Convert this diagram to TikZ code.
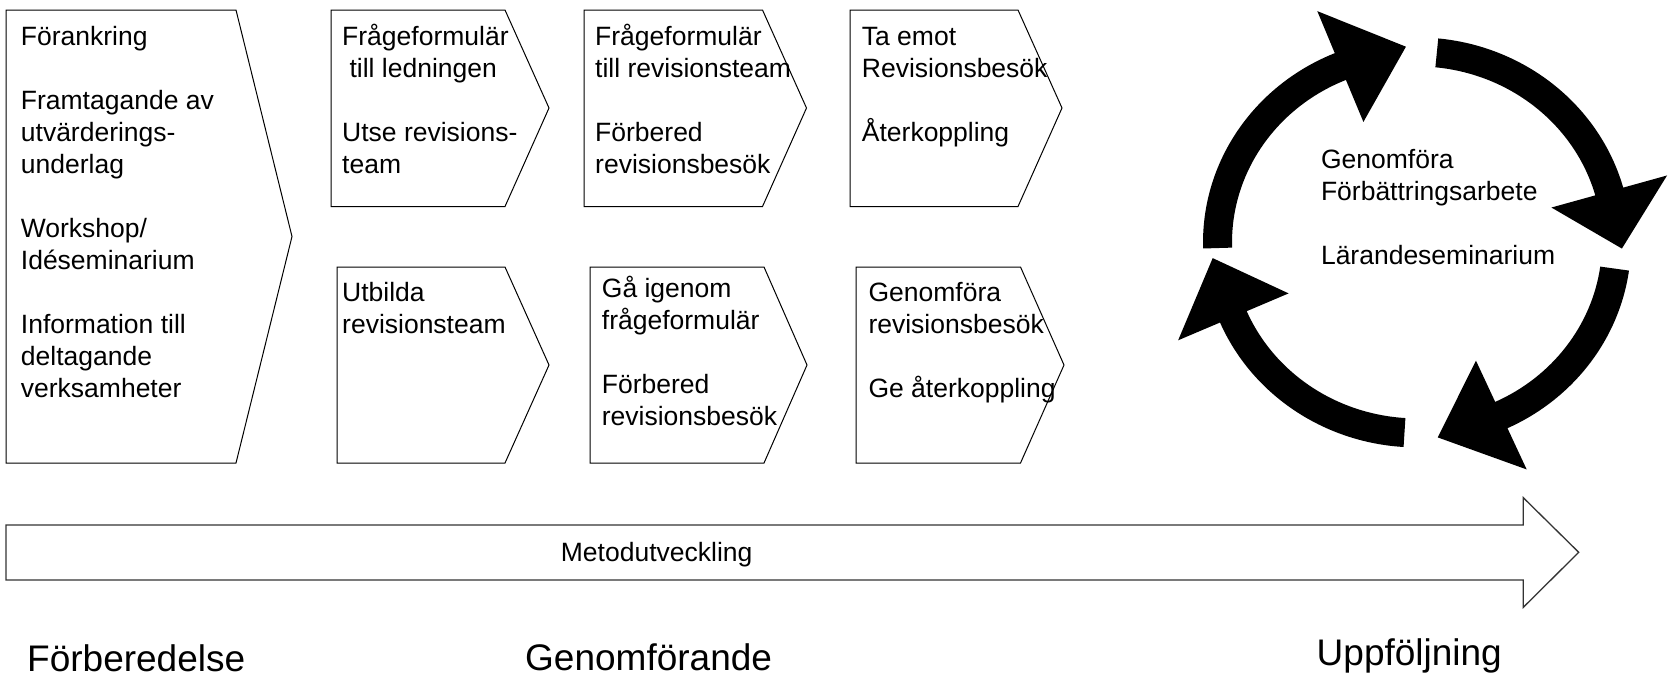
\documentclass[tikz,border=0pt]{standalone}
\usepackage{fontspec}
\setmainfont{Liberation Sans}
\usetikzlibrary{calc}
\newcommand{\tlines}[1]{\vtop{\baselineskip=32pt\halign{##\hfil\cr#1\crcr}}}
\newcommand{\cycarrow}[3]{%
  \fill[cyc] ($(cc)+(#1:214 and 205)$) arc[start angle=#1, end angle=#2, x radius=214, y radius=205]
    -- ($(cc)+(#2:259.5 and 250.5)$) -- ($(cc)+(#3:205 and 196)$) -- ($(cc)+(#2:139.5 and 130.5)$)
    -- ($(cc)+(#2:185 and 176)$) arc[start angle=#2, end angle=#1, x radius=185, y radius=176] -- cycle;}
\begin{document}
\begin{tikzpicture}[x=1pt,y=-1pt,
  shp/.style={draw=black, line width=1pt, fill=white, line join=miter},
  bar/.style={draw=black!80, line width=1.3pt, fill=white, line join=miter},
  txt/.style={anchor=base west, inner sep=0pt, font=\fontsize{26.5}{32}\selectfont},
  phase/.style={anchor=base west, inner sep=0pt, font=\fontsize{37}{44}\selectfont},
  cyc/.style={fill=black}]
\useasboundingbox (0,0) rectangle (1669,678);
\fill[white] (0,0) rectangle (1669,678);

% chevrons
\draw[shp] (6,10) -- (236,10) -- (292,236.5) -- (236,463) -- (6,463) -- cycle;
\draw[shp] (331,10) -- (505,10) -- (549,108) -- (505,206.5) -- (331,206.5) -- cycle;
\draw[shp] (337,267) -- (505,267) -- (549,365) -- (505,463) -- (337,463) -- cycle;
\draw[shp] (584,10) -- (762.5,10) -- (806.5,108) -- (762.5,206.5) -- (584,206.5) -- cycle;
\draw[shp] (590,267) -- (764,267) -- (807,365) -- (764,463) -- (590,463) -- cycle;
\draw[shp] (850,10) -- (1018,10) -- (1062,108) -- (1018,206.5) -- (850,206.5) -- cycle;
\draw[shp] (856,267) -- (1020.5,267) -- (1064,365) -- (1020.5,463) -- (856,463) -- cycle;

% texts in chevrons
\node[txt] (prep) at (20.7,45) {\tlines{Förankring\cr\cr Framtagande av\cr utvärderings-\cr underlag\cr\cr Workshop/\cr Idéseminarium\cr\cr Information till\cr deltagande\cr verksamheter}};
\node[txt] (q1) at (342,45) {\tlines{Frågeformulär\cr\ till ledningen\cr\cr Utse revisions-\cr team}};
\node[txt] (u1) at (342,301.7) {\tlines{Utbilda\cr revisionsteam}};
\node[txt] (q2) at (595,45) {\tlines{Frågeformulär\cr till revisionsteam\cr\cr Förbered\cr revisionsbesök}};
\node[txt] (g2) at (601.7,297.7) {\tlines{Gå igenom\cr frågeformulär\cr\cr Förbered\cr revisionsbesök}};
\node[txt] (t3) at (861.7,45.7) {\tlines{Ta emot\cr Revisionsbesök\cr\cr Återkoppling}};
\node[txt] (g3) at (868.3,301.7) {\tlines{Genomföra\cr revisionsbesök\cr\cr Ge återkoppling}};

% cycle arrows
\coordinate (cc) at (1417,242.4);
\cycarrow{-181.7}{-112.6}{-93.1}
\cycarrow{-84.3}{-15.5}{1.8}
\cycarrow{7.9}{65}{84.2}
\cycarrow{-266.4}{-203}{-184.6}
\node[txt] (cyctext) at (1320.8,168) {\tlines{Genomföra\cr Förbättringsarbete\cr\cr Lärandeseminarium}};

% method arrow
\draw[bar] (6,525) -- (1523.3,525) -- (1523.3,497.7) -- (1578.7,552.3) -- (1523.3,607.3) -- (1523.3,580) -- (6,580) -- cycle;
\node[txt] (metod) at (560.7,561.7) {Metodutveckling};

% phases
\node[phase] (p1) at (27,671.5) {Förberedelse};
\node[phase] (p2) at (525,670.5) {Genomförande};
\node[phase] (p3) at (1316.5,665) {Uppföljning};
\end{tikzpicture}
\end{document}
